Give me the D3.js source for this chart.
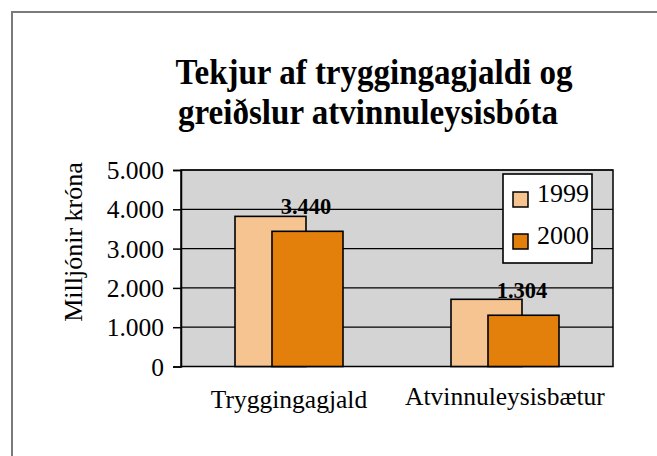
<!DOCTYPE html>
<html>
<head>
<meta charset="utf-8">
<script src="https://cdn.jsdelivr.net/npm/d3@7"></script>
<style>
  body { margin: 0; background: #fff; }
  svg { display: block; }
  text { font-family: "Liberation Serif", "Times New Roman", serif; fill: #000; }
</style>
</head>
<body>
<svg id="chart" width="657" height="456"></svg>
<script>
// chart data
const categories = ["Tryggingagjald", "Atvinnuleysisbætur"];
const years = ["1999", "2000"];
const values1999 = [3820, 1710];
const values2000 = [3440, 1304];
const yTicks = [0, 1000, 2000, 3000, 4000, 5000];
const titleLines = ["Tekjur af tryggingagjaldi og", "greiðslur atvinnuleysisbóta"];
const yTitle = "Milljónir króna";
const colors = { "1999": "#f5c491", "2000": "#e2800b" };

const svg = d3.select("#chart");

// outer frame (runs off the right and bottom of the picture)
svg.append("rect")
  .attr("x", 12).attr("y", 12)
  .attr("width", 700).attr("height", 500)
  .attr("fill", "none")
  .attr("stroke", "#7a7a7a")
  .attr("stroke-width", 2);

// plot area
let plotLeft = 181, plotRight = 613, plotTop = 170, plotBottom = 366.5;

let x = d3.scaleBand()
  .domain(categories)
  .range([plotLeft, plotRight]);

// bars overlap inside a group, 1999 left and 2000 shifted right
let offset = d3.scalePoint()
  .domain(years)
  .range([-54, -17]);
let barWidth = 72;

let y = d3.scaleLinear()
  .domain([0, 5000])
  .range([plotBottom, plotTop]);

let loc = d3.formatLocale({ decimal: ",", thousands: ".", grouping: [3], currency: ["", ""] });
let fmt = loc.format(",");

svg.append("rect")
  .attr("x", plotLeft).attr("y", plotTop)
  .attr("width", plotRight - plotLeft).attr("height", plotBottom - plotTop)
  .attr("fill", "#d4d4d4");

// gridlines
svg.append("g")
  .selectAll("line")
  .data(yTicks)
  .join("line")
  .attr("x1", plotLeft).attr("x2", plotRight)
  .attr("y1", d => y(d)).attr("y2", d => y(d))
  .attr("stroke", "#000")
  .attr("stroke-width", 1.2);

// plot border
svg.append("rect")
  .attr("x", plotLeft).attr("y", plotTop)
  .attr("width", plotRight - plotLeft).attr("height", plotBottom - plotTop)
  .attr("fill", "none")
  .attr("stroke", "#000")
  .attr("stroke-width", 1.5);

// y axis
let leftAxis = d3.axisLeft(y)
  .tickValues(yTicks)
  .tickSize(8)
  .tickPadding(9)
  .tickFormat(d => fmt(d));

let yAxisG = svg.append("g")
  .attr("transform", `translate(${plotLeft}, 0)`)
  .call(leftAxis);
yAxisG.select(".domain").attr("stroke", "#000").attr("stroke-width", 1.5);
yAxisG.selectAll(".tick line").attr("stroke", "#000").attr("stroke-width", 1.5);
yAxisG.selectAll(".tick text")
  .attr("font-family", "Liberation Serif, serif")
  .attr("font-size", 25.5)
  .attr("dy", "0.34em");

// bars
let barData = [];
categories.forEach((c, i) => {
  barData.push({ cat: c, year: "1999", value: values1999[i] });
  barData.push({ cat: c, year: "2000", value: values2000[i] });
});

svg.append("g")
  .selectAll("rect")
  .data(barData)
  .join("rect")
  .attr("x", d => x(d.cat) + x.bandwidth() / 2 + offset(d.year))
  .attr("y", d => y(d.value))
  .attr("width", barWidth - 1)
  .attr("height", d => y(0) - y(d.value))
  .attr("fill", d => colors[d.year])
  .attr("stroke", "#000")
  .attr("stroke-width", 1.6);

// value labels on 2000 bars
svg.append("g")
  .selectAll("text")
  .data(barData.filter(d => d.year == "2000"))
  .join("text")
  .attr("x", d => x(d.cat) + x.bandwidth() / 2 + offset(d.year) + barWidth / 2 - 2)
  .attr("y", d => y(d.value) - 17.5)
  .attr("text-anchor", "middle")
  .attr("font-size", 22.5)
  .attr("font-weight", "bold")
  .text(d => fmt(d.value));

// category labels
svg.append("g")
  .selectAll("text")
  .data(categories)
  .join("text")
  .attr("x", d => x(d) + x.bandwidth() / 2)
  .attr("y", (d, i) => i == 0 ? 408 : 405)
  .attr("text-anchor", "middle")
  .attr("font-size", 25.5)
  .text(d => d);

// y axis title
svg.append("text")
  .attr("transform", "translate(82, 242) rotate(-90)")
  .attr("text-anchor", "middle")
  .attr("font-size", 26)
  .text(yTitle);

// title, condensed look
let titleX = [374, 368], titleY = [84, 124], titleLen = [397, 380];
svg.append("g")
  .selectAll("text")
  .data(titleLines)
  .join("text")
  .attr("x", (d, i) => titleX[i])
  .attr("y", (d, i) => titleY[i])
  .attr("text-anchor", "middle")
  .attr("font-size", 36)
  .attr("font-weight", "bold")
  .attr("textLength", (d, i) => titleLen[i])
  .attr("lengthAdjust", "spacingAndGlyphs")
  .text(d => d);

// legend
let legend = svg.append("g");
legend.append("rect")
  .attr("x", 503).attr("y", 174)
  .attr("width", 89).attr("height", 89)
  .attr("fill", "#fff")
  .attr("stroke", "#000")
  .attr("stroke-width", 1.6);

let legendY = d3.scalePoint().domain(years).range([192, 234]);
legend.selectAll(".sw")
  .data(years)
  .join("rect")
  .attr("class", "sw")
  .attr("x", 513)
  .attr("y", d => legendY(d))
  .attr("width", 15).attr("height", 15)
  .attr("fill", d => colors[d])
  .attr("stroke", "#000")
  .attr("stroke-width", 1.5);

legend.selectAll(".lt")
  .data(years)
  .join("text")
  .attr("class", "lt")
  .attr("x", 537)
  .attr("y", d => legendY(d) + 9.5)
  .attr("font-size", 26)
  .text(d => d);
</script>
</body>
</html>
